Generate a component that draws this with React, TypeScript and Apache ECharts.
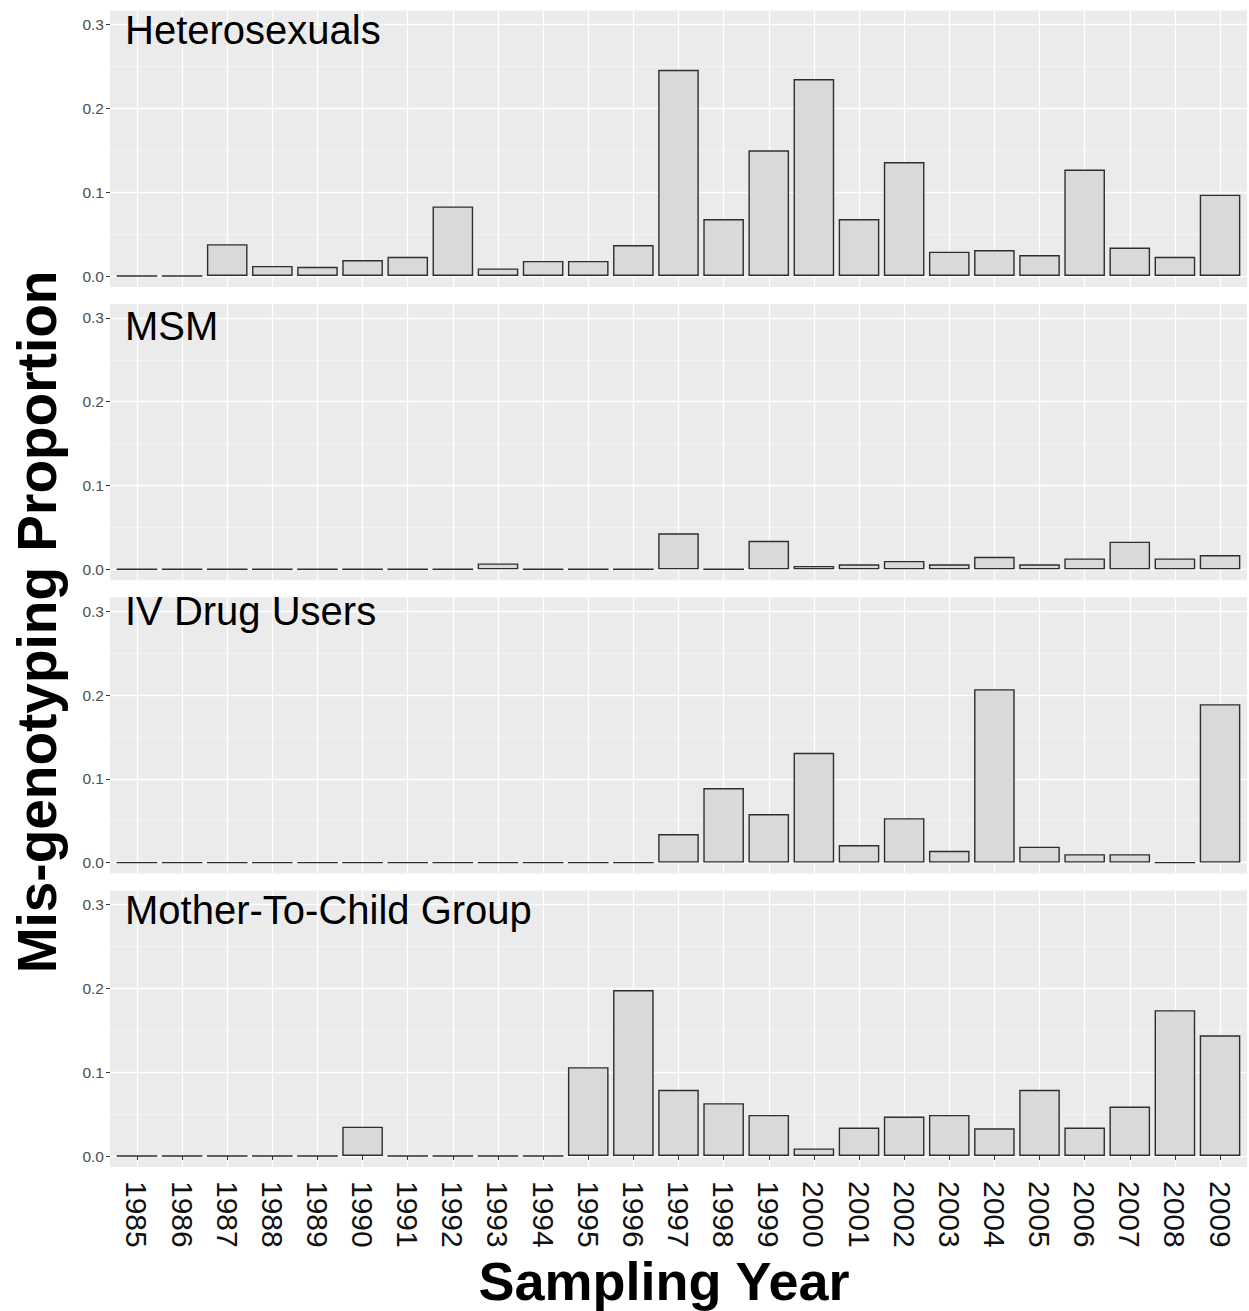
import React, { useEffect, useRef } from "react";
import * as echarts from "echarts";

const years = ["1985","1986","1987","1988","1989","1990","1991","1992","1993","1994","1995","1996","1997","1998","1999","2000","2001","2002","2003","2004","2005","2006","2007","2008","2009"];
const heterosexuals = [0,0,0.038,0.012,0.011,0.019,0.023,0.083,0.009,0.018,0.018,0.037,0.246,0.068,0.150,0.235,0.068,0.136,0.029,0.031,0.025,0.127,0.034,0.023,0.097];
const msm = [0,0,0,0,0,0,0,0,0.007,0,0,0,0.043,0,0.034,0.004,0.006,0.010,0.006,0.015,0.006,0.013,0.033,0.013,0.017];
const ivDrugUsers = [0,0,0,0,0,0,0,0,0,0,0,0,0.034,0.089,0.058,0.131,0.021,0.053,0.014,0.207,0.019,0.010,0.010,0,0.189];
const motherToChild = [0,0,0,0,0,0.035,0,0,0,0,0.106,0.198,0.079,0.063,0.049,0.009,0.034,0.047,0.049,0.033,0.079,0.034,0.059,0.174,0.144];
const panelNames = ["Heterosexuals", "MSM", "IV Drug Users", "Mother-To-Child Group"];
const panelValues = [heterosexuals, msm, ivDrugUsers, motherToChild];
const yMin = 0;
const yMax = 0.3;
const yInterval = 0.1;
const yAxisTitle = "Mis-genotyping Proportion";
const xAxisTitle = "Sampling Year";

const FONT = "'Liberation Sans', Arial, Helvetica, sans-serif";

export default function App() {
  const ref = useRef<HTMLDivElement>(null);
  useEffect(() => {
    if (!ref.current) return;
    const chart = echarts.init(ref.current, null, { renderer: "svg" });

    // layout
    const zeroY = [276, 569.3, 862.6, 1156];
    const plotH = 251.4; // pixel height of 0 .. 0.3
    const pxPerUnit = plotH / (yMax - yMin);
    const extTop = 14;
    const extBot = 11;
    const bgLeft = 110;
    const bgRight = 1247;
    const catLeft = 114.4;
    const catWidth = 1128.2;
    const labelOffsets = [5, 8, 0, 5];

    const grid: any[] = [];
    const xAxis: any[] = [];
    const yAxis: any[] = [];
    const series: any[] = [];
    const graphic: any[] = [];
    const n = panelValues.length;

    panelValues.forEach((vals, i) => {
      const top03 = zeroY[i] - plotH;
      const isLast = i === n - 1;
      grid.push({ left: catLeft, width: catWidth, top: top03 - extTop, height: plotH + extTop + extBot, containLabel: false });
      xAxis.push({
        type: "category",
        gridIndex: i,
        data: years,
        axisLine: { show: false },
        axisTick: { show: isLast, alignWithLabel: true, length: 4, lineStyle: { color: "#333333", width: 1 } },
        axisLabel: { show: isLast, rotate: -90, fontSize: 30, color: "#111111", margin: 14, fontFamily: FONT, interval: 0 },
        splitLine: { show: true, alignWithLabel: true, lineStyle: { color: "#ffffff", width: 1.3 } },
      });
      yAxis.push({
        type: "value",
        gridIndex: i,
        show: false,
        min: yMin - extBot / pxPerUnit,
        max: yMax + extTop / pxPerUnit,
        splitLine: { show: false },
      });
      series.push({
        type: "bar",
        name: panelNames[i],
        xAxisIndex: i,
        yAxisIndex: i,
        data: vals,
        barWidth: "90%",
        itemStyle: { color: "#d9d9d9", borderColor: "#2e2e2e", borderWidth: 1.4 },
        z: 3,
      });
      graphic.push({
        type: "rect",
        z: -10,
        silent: true,
        shape: { x: bgLeft, y: top03 - extTop, width: bgRight - bgLeft, height: plotH + extTop + extBot },
        style: { fill: "#ebebeb" },
      });
      graphic.push({
        type: "text",
        z: 10,
        x: 125,
        y: top03 + labelOffsets[i],
        style: { text: panelNames[i], fontSize: 40, fontFamily: FONT, fill: "#000000", align: "left", verticalAlign: "middle" },
      });
    });

    panelValues.forEach((_, i) => {
      const top03 = zeroY[i] - plotH;
      const gi = n + i;
      grid.push({ left: bgLeft, width: bgRight - bgLeft, top: top03, height: plotH, containLabel: false });
      xAxis.push({ type: "value", gridIndex: gi, show: false, min: 0, max: 1 });
      yAxis.push({
        type: "value",
        gridIndex: gi,
        min: yMin,
        max: yMax,
        interval: yInterval,
        axisLine: { show: false },
        axisTick: { show: true, length: 4, lineStyle: { color: "#333333", width: 1 } },
        axisLabel: { fontSize: 15.5, color: "#4d4d4d", margin: 6, fontFamily: FONT, formatter: (v: number) => v.toFixed(1) },
        splitLine: { show: true, lineStyle: { color: "#ffffff", width: 1.3 } },
        minorTick: { show: false, splitNumber: 2 },
        minorSplitLine: { show: true, lineStyle: { color: "#f7f7f7", width: 0.7 } },
      });
    });

    graphic.push({
      type: "text",
      x: 37,
      y: 622,
      rotation: Math.PI / 2,
      style: { text: yAxisTitle, fontSize: 55, fontWeight: "bold", fontFamily: FONT, fill: "#000000", align: "center", verticalAlign: "middle" },
    });
    graphic.push({
      type: "text",
      x: 664,
      y: 1281,
      style: { text: xAxisTitle, fontSize: 54, fontWeight: "bold", fontFamily: FONT, fill: "#000000", align: "center", verticalAlign: "middle" },
    });

    chart.setOption({
      animation: false,
      backgroundColor: "#ffffff",
      textStyle: { fontFamily: FONT },
      grid,
      xAxis,
      yAxis,
      series,
      graphic: { elements: graphic },
    });
    return () => chart.dispose();
  }, []);
  return <div ref={ref} style={{ position: "absolute", left: 0, top: 0, width: 1249, height: 1311 }} />;
}
